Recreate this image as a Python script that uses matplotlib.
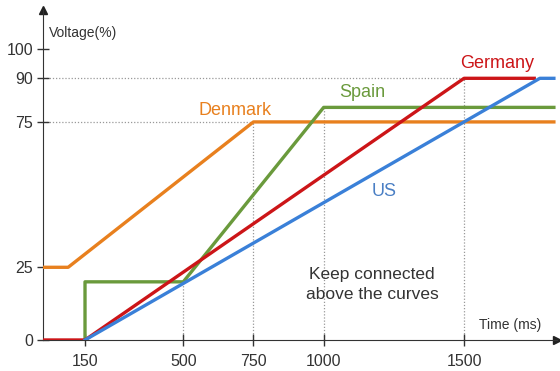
import matplotlib.pyplot as plt

plt.rcParams['font.family'] = ['Liberation Sans', 'DejaVu Sans']

# Voltage ride-through curves (time in ms, voltage in %)
denmark_t = [0, 90, 750, 1820]
denmark_v = [25, 25, 75, 75]
spain_t = [150, 150, 500, 1000, 1820]
spain_v = [0, 20, 20, 80, 80]
germany_t = [0, 150, 1500, 1750]
germany_v = [0, 0, 90, 90]
us_t = [150, 1770, 1820]
us_v = [0, 90, 90]

x_ticks = [150, 500, 750, 1000, 1500]
y_ticks = [0, 25, 75, 90, 100]

# guide lines: vertical (time, up to voltage), horizontal (voltage, up to time)
vguides = [(500, 20), (750, 75), (1000, 80), (1500, 90)]
hguides = [(75, 750), (90, 1820)]

c_den = '#E8801E'
c_spa = '#6A9A3C'
c_ger = '#CC1518'
c_us = '#3A80D8'

fig = plt.figure(figsize=(5.6, 3.71), dpi=100)
ax = fig.add_axes([0.0766, 0.0836, 0.918, 0.8895])
ax.set_xlim(0, 1831)
ax.set_ylim(0, 113.5)

for t, v in vguides:
    ax.plot([t, t], [0, v], ls=(0, (1, 1.5)), color='#999999', lw=0.9, zorder=1)
for v, t in hguides:
    ax.plot([0, t], [v, v], ls=(0, (1, 1.5)), color='#999999', lw=0.9, zorder=1)

ax.plot(denmark_t, denmark_v, color=c_den, lw=2.4, zorder=3)
ax.plot(spain_t, spain_v, color=c_spa, lw=2.4, zorder=3)
ax.plot(germany_t, germany_v, color=c_ger, lw=2.4, zorder=4)
ax.plot(us_t, us_v, color=c_us, lw=2.4, zorder=5)

ax.spines['top'].set_visible(False)
ax.spines['right'].set_visible(False)
ax.spines['left'].set_color('#333333')
ax.spines['bottom'].set_color('#333333')
ax.plot(1, 0, '>', color='#222222', ms=6, transform=ax.get_yaxis_transform(), clip_on=False)
ax.plot(0, 1, '^', color='#222222', ms=6, transform=ax.get_xaxis_transform(), clip_on=False)

ax.set_xticks(x_ticks)
ax.set_yticks(y_ticks)
ax.tick_params(direction='inout', length=8, width=1, color='#333333',
               labelsize=11.5, labelcolor='#333333')
ax.tick_params(axis='x', pad=6)
ax.tick_params(axis='y', pad=3)

ax.text(22, 105.5, 'Voltage(%)', fontsize=10, color='#333333', va='center')
ax.text(1665, 5, 'Time (ms)', fontsize=10, color='#333333', va='center', ha='center')

ax.text(685, 79, 'Denmark', fontsize=13, color=c_den, ha='center', va='center')
ax.text(1138, 85, 'Spain', fontsize=13, color=c_spa, ha='center', va='center')
ax.text(1618, 95, 'Germany', fontsize=13, color=c_ger, ha='center', va='center')
ax.text(1216, 51, 'US', fontsize=13, color='#4A7FC4', ha='center', va='center')
ax.text(1173, 19, 'Keep connected\nabove the curves', fontsize=12.5,
        color='#333333', ha='center', va='center', linespacing=1.45)

fig.savefig('out.png', dpi=100)
